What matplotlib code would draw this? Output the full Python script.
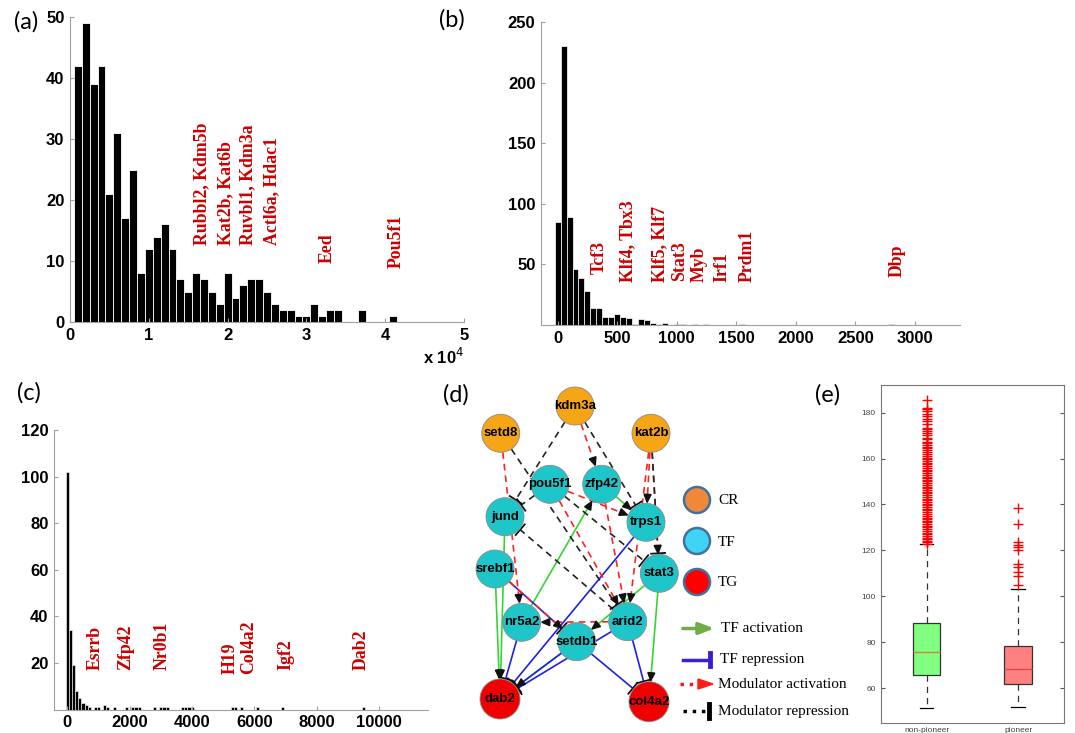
import matplotlib
matplotlib.use('Agg')
import matplotlib.pyplot as plt
import matplotlib.patches as mpatches
import numpy as np

# ---- (a) histogram, x in units of 1e4 ----
a_width = 1000
a_centers = np.arange(1000, 41001, 1000)
a_counts = [42, 49, 39, 42, 21, 31, 17, 25, 8, 12, 14, 16, 12, 7, 5, 8, 7, 5, 3, 8,
            4, 6, 7, 7, 5, 3, 2, 2, 1, 1, 3, 1, 2, 2, 0, 0, 2, 0, 0, 0, 1]
a_names = ['Rubbl2, Kdm5b', 'Kat2b, Kat6b', 'Ruvbl1, Kdm3a', 'Actl6a, Hdac1', 'Eed', 'Pou5f1']
a_name_x = [16750, 19700, 22600, 25600, 32700, 41400]
a_name_y = [12.6, 12.6, 12.6, 12.6, 9.7, 8.9]

# ---- (b) histogram ----
b_width = 50
b_centers = [0, 50, 100, 150, 200, 250, 300, 350, 400, 450, 500, 550, 600, 650, 700,
             750, 800, 850, 900, 1000, 1050, 1150, 1250, 1550, 2800]
b_counts = [85, 230, 89, 46, 39, 28, 14, 14, 7, 7, 9, 7, 6, 1, 5, 4, 2, 1, 2,
            1, 1, 1, 1, 1, 1]
b_names = ['Tcf3', 'Klf4, Tbx3', 'Klf5, Klf7', 'Stat3', 'Myb', 'Irf1', 'Prdm1', 'Dbp']
b_name_x = [353, 588, 857, 1025, 1193, 1378, 1596, 2849]
b_name_y = [42, 35.5, 35.5, 36, 35.5, 35.5, 35.5, 39.6]

# ---- (c) histogram ----
c_width = 100
c_centers = [0, 100, 200, 300, 400, 500, 600, 700, 900, 1000, 1200, 1300, 1500, 1900,
             2100, 2200, 2300, 2800, 3000, 3100, 3200, 3700, 3800, 3900, 4000, 5300,
             5400, 5600, 6100, 6900, 9500]
c_counts = [102, 34, 19, 8, 5, 3, 2, 1, 1, 1, 2, 1, 1, 1, 1, 1, 1, 1, 1, 1, 1, 1, 1,
            1, 1, 1, 1, 1, 1, 1, 1]
c_names = ['Esrrb', 'Zfp42', 'Nr0b1', 'H19', 'Col4a2', 'Igf2', 'Dab2']
c_name_x = [877, 1873, 3051, 5236, 5801, 7002, 9422]
c_name_y = [16.9, 16.9, 16.9, 15.2, 15.2, 16.9, 16.9]

# ---- (d) network ----
node_kind = {'kdm3a': 'CR', 'setd8': 'CR', 'kat2b': 'CR',
             'pou5f1': 'TF', 'zfp42': 'TF', 'jund': 'TF', 'trps1': 'TF', 'srebf1': 'TF',
             'stat3': 'TF', 'nr5a2': 'TF', 'arid2': 'TF', 'setdb1': 'TF',
             'dab2': 'TG', 'col4a2': 'TG'}
node_pos = {'kdm3a': (125, 46), 'setd8': (50.7, 73.3), 'kat2b': (201, 73.3),
            'pou5f1': (100, 124.3), 'zfp42': (151.7, 124.3), 'jund': (55, 156.7),
            'trps1': (196, 162.3), 'srebf1': (45, 209), 'stat3': (209.3, 213.3),
            'nr5a2': (71.7, 262.3), 'arid2': (177.7, 261.7), 'setdb1': (126.7, 281.7),
            'dab2': (50, 339), 'col4a2': (199, 341.7)}
tf_act = [('jund', 'dab2'), ('srebf1', 'dab2'), ('nr5a2', 'zfp42'), ('zfp42', 'trps1'),
          ('stat3', 'col4a2'), ('stat3', 'setdb1'), ('setdb1', 'dab2')]
tf_rep = [('srebf1', 'setdb1'), ('trps1', 'dab2'), ('nr5a2', 'dab2'), ('setdb1', 'dab2'),
          ('arid2', 'dab2'), ('setdb1', 'col4a2'), ('arid2', 'col4a2')]
mod_act = [('setd8', 'nr5a2'), ('kdm3a', 'zfp42'), ('kat2b', 'trps1'), ('kat2b', 'arid2'),
           ('kat2b', 'stat3'), ('pou5f1', 'trps1'), ('pou5f1', 'arid2'), ('zfp42', 'arid2'),
           ('arid2', 'nr5a2'), ('srebf1', 'setdb1')]
mod_rep = [('kdm3a', 'jund'), ('kdm3a', 'trps1'), ('setd8', 'arid2'), ('pou5f1', 'jund'),
           ('kat2b', 'stat3'), ('pou5f1', 'stat3'), ('arid2', 'jund')]

# ---- (e) boxplot ----
box_labels = ['non-pioneer', 'pioneer']
box_med = [75.6, 68.2]
box_q1 = [65.8, 62.0]
box_q3 = [88.2, 78.5]
box_lo = [51.6, 52.0]
box_hi = [122.6, 103.2]
nonpioneer_out = [122.9, 123.6, 124.3, 125.0, 125.6, 126.4, 127.1, 127.7, 128.5, 129.2,
                  130.0, 130.7, 131.5, 132.2, 132.9, 133.7, 134.3, 135.1, 135.9, 136.6,
                  137.4, 138.0, 138.9, 139.6, 140.3, 141.1, 141.9, 142.5, 143.3, 144.0,
                  144.8, 145.6, 146.2, 147.0, 147.8, 148.4, 149.3, 150.0, 150.7, 151.5,
                  152.1, 152.9, 153.7, 154.4, 155.1, 155.9, 156.6, 157.4, 158.0, 158.9,
                  159.6, 160.3, 161.0, 161.9, 162.7, 163.5, 164.4, 165.1, 165.9, 166.8,
                  167.4, 168.3, 169.1, 170.2, 171.1, 172.0, 172.8, 173.4, 175.0, 176.2,
                  177.0, 178.4, 179.3, 180.7, 181.6, 182.1, 185.3]
pioneer_out = [105.1, 108.8, 110.6, 112.6, 113.9, 120.1, 121.5, 122.3, 123.8, 131.6, 138.3]

RED = '#cc0000'
SPINE = '#a0a0a0'
plt.rcParams['font.family'] = ['Liberation Sans', 'DejaVu Sans']

fig = plt.figure(figsize=(10.75, 7.33), dpi=100)
W, H = 1075.0, 733.0


def px_axes(l, t, r, b):
    return fig.add_axes([l / W, 1 - b / H, (r - l) / W, (b - t) / H])


def hist_style(ax):
    for s in ['top', 'right']:
        ax.spines[s].set_visible(False)
    for s in ['left', 'bottom']:
        ax.spines[s].set_color(SPINE)
    ax.tick_params(direction='in', length=3, color=SPINE, labelsize=12, pad=4)
    for lab in ax.get_xticklabels() + ax.get_yticklabels():
        lab.set_fontweight('bold')


def names(ax, xs, ys, txt):
    for x, y, t in zip(xs, ys, txt):
        ax.text(x, y, t, rotation=90, ha='center', va='bottom', color=RED,
                family='Liberation Serif', weight='bold', fontsize=12.8)


# (a)
ax = px_axes(70, 17, 464, 322)
ax.bar(a_centers, a_counts, width=a_width, color='black', edgecolor='white', linewidth=0.6)
ax.set_xlim(0, 50000)
ax.set_ylim(0, 50)
ax.set_xticks([0, 10000, 20000, 30000, 40000, 50000])
ax.set_xticklabels(['0', '1', '2', '3', '4', '5'])
ax.set_yticks([0, 10, 20, 30, 40, 50])
hist_style(ax)
names(ax, a_name_x, a_name_y, a_names)
ax.text(1.0, -0.115, r'x 10$^4$', transform=ax.transAxes, ha='right', va='center',
        fontsize=12, weight='bold')

# (b)
ax = px_axes(541, 22, 960, 325)
ax.bar(b_centers, b_counts, width=b_width, color='black', edgecolor='white', linewidth=0.5)
ax.set_xlim(-140, 3380)
ax.set_ylim(0, 250)
ax.set_xticks([0, 500, 1000, 1500, 2000, 2500, 3000])
ax.set_yticks([50, 100, 150, 200, 250])
hist_style(ax)
names(ax, b_name_x, b_name_y, b_names)

# (c)
ax = px_axes(54, 430, 428, 709.5)
ax.bar(c_centers, c_counts, width=c_width, color='black', edgecolor='white', linewidth=0.4)
ax.set_xlim(-430, 11570)
ax.set_ylim(0, 120)
ax.set_xticks([0, 2000, 4000, 6000, 8000, 10000])
ax.set_yticks([20, 40, 60, 80, 100, 120])
hist_style(ax)
names(ax, c_name_x, c_name_y, c_names)

# (d) network
ax = px_axes(450, 360, 870, 733)
ax.set_xlim(0, 420)
ax.set_ylim(373, 0)
ax.axis('off')
fill = {'CR': '#f5a515', 'TF': '#1ec6c9', 'TG': '#f00000'}
rad = {'CR': 19, 'TF': 19, 'TG': 20}


def head(ax, end, u, kind, color):
    n = np.array([-u[1], u[0]])
    if kind == 'arrow':
        tri = [end, end - u * 8 + n * 3.5, end - u * 8 - n * 3.5]
        ax.add_patch(mpatches.Polygon(tri, closed=True, color=color, zorder=2))
    else:
        a, b = end + n * 7, end - n * 7
        ax.plot([a[0], b[0]], [a[1], b[1]], color=color, lw=1.3, zorder=2)


def draw_edges(edges, color, ls, kind):
    for s, t in edges:
        p = np.array(node_pos[s], float)
        q = np.array(node_pos[t], float)
        d = q - p
        u = d / np.hypot(*d)
        a = p + u * rad[node_kind[s]]
        b = q - u * (rad[node_kind[t]] + 1)
        ax.plot([a[0], b[0]], [a[1], b[1]], color=color, ls=ls, lw=1.2, zorder=1)
        head(ax, b, u, kind, '#111111')


draw_edges(tf_act, '#33d633', '-', 'arrow')
draw_edges(tf_rep, '#1f1fe6', '-', 'bar')
draw_edges(mod_act, '#ff2222', (0, (4, 3)), 'arrow')
draw_edges(mod_rep, '#222222', (0, (4, 3)), 'bar')

for name, (x, y) in node_pos.items():
    k = node_kind[name]
    ax.add_patch(mpatches.Circle((x, y), rad[k], fc=fill[k], ec='#8a8a8a', lw=0.6, zorder=3))
    ax.text(x, y, name, ha='center', va='center', fontsize=9.5, weight='bold', zorder=4)

leg_fill = ['#f0883a', '#3fd3f5', '#ff0000']
leg_txt = ['CR', 'TF', 'TG']
leg_y = [140, 181, 222]
for fc, t, y in zip(leg_fill, leg_txt, leg_y):
    ax.add_patch(mpatches.Circle((247, y), 13, fc=fc, ec='#41719c', lw=1.8, zorder=3))
    ax.text(268, y + 1, t, ha='left', va='center', family='Liberation Serif', fontsize=11)

ax.annotate('', xy=(267, 268.5), xytext=(230, 268.5),
            arrowprops=dict(arrowstyle='-|>,head_length=0.9,head_width=0.35',
                            color='#70ad47', lw=2.5))
ax.plot([233, 259], [299.5, 299.5], color='#3a1fd0', lw=2.5)
ax.plot([260, 260], [293, 306], color='#3a1fd0', lw=3.5)
ax.plot([230, 250], [324, 324], color='#ff1a1a', ls=':', lw=2.5)
ax.add_patch(mpatches.Polygon([(263, 324), (248, 319), (248, 329)], color='#ff1a1a'))
ax.plot([233, 256], [351, 351], color='black', ls=':', lw=2.5)
ax.plot([259, 259], [344, 358], color='black', lw=3.5)
leg2 = ['TF activation', 'TF repression', 'Modulator activation', 'Modulator repression']
leg2_x = [271, 270, 268, 268]
leg2_y = [268.5, 300, 324, 351]
for t, x, y in zip(leg2, leg2_x, leg2_y):
    ax.text(x, y, t, ha='left', va='center', family='Liberation Serif', fontsize=11)

# (e) boxplot
ax = px_axes(880.7, 385, 1064, 722.7)
outs = [nonpioneer_out, pioneer_out]
stats = [dict(med=box_med[i], q1=box_q1[i], q3=box_q3[i], whislo=box_lo[i],
              whishi=box_hi[i], fliers=outs[i], label=box_labels[i]) for i in range(2)]
bp = ax.bxp(stats, positions=[1, 2], widths=0.3, patch_artist=True,
            whiskerprops=dict(color='#333333', ls=(0, (5, 4)), lw=0.9),
            capprops=dict(color='black', lw=0.9),
            flierprops=dict(marker='+', markeredgecolor='red', markersize=7,
                            markeredgewidth=1.0, lw=0),
            boxprops=dict(edgecolor='#333333', lw=0.9))
bp['boxes'][0].set_facecolor('#80ff80')
bp['boxes'][1].set_facecolor('#ff8080')
bp['medians'][0].set_color('#c08a3a')
bp['medians'][1].set_color('#e04848')
ax.set_xlim(0.5, 2.5)
ax.set_ylim(45, 192)
ax.set_yticks([60, 80, 100, 120, 140, 160, 180])
for s in ax.spines.values():
    s.set_color('#777777')
ax.tick_params(axis='y', direction='in', length=3, color='#555555', labelsize=6,
               labelcolor='#444444', right=True)
ax.tick_params(axis='x', length=0, labelsize=6, labelcolor='#444444', pad=3)

# panel letters
for t, x, y in [('(a)', 26, 22), ('(b)', 452, 20), ('(c)', 29, 393), ('(d)', 456, 395),
                ('(e)', 828, 395)]:
    fig.text(x / W, 1 - y / H, t, ha='center', va='center', family='Lato', fontsize=17)

fig.savefig('out.png', dpi=100)
